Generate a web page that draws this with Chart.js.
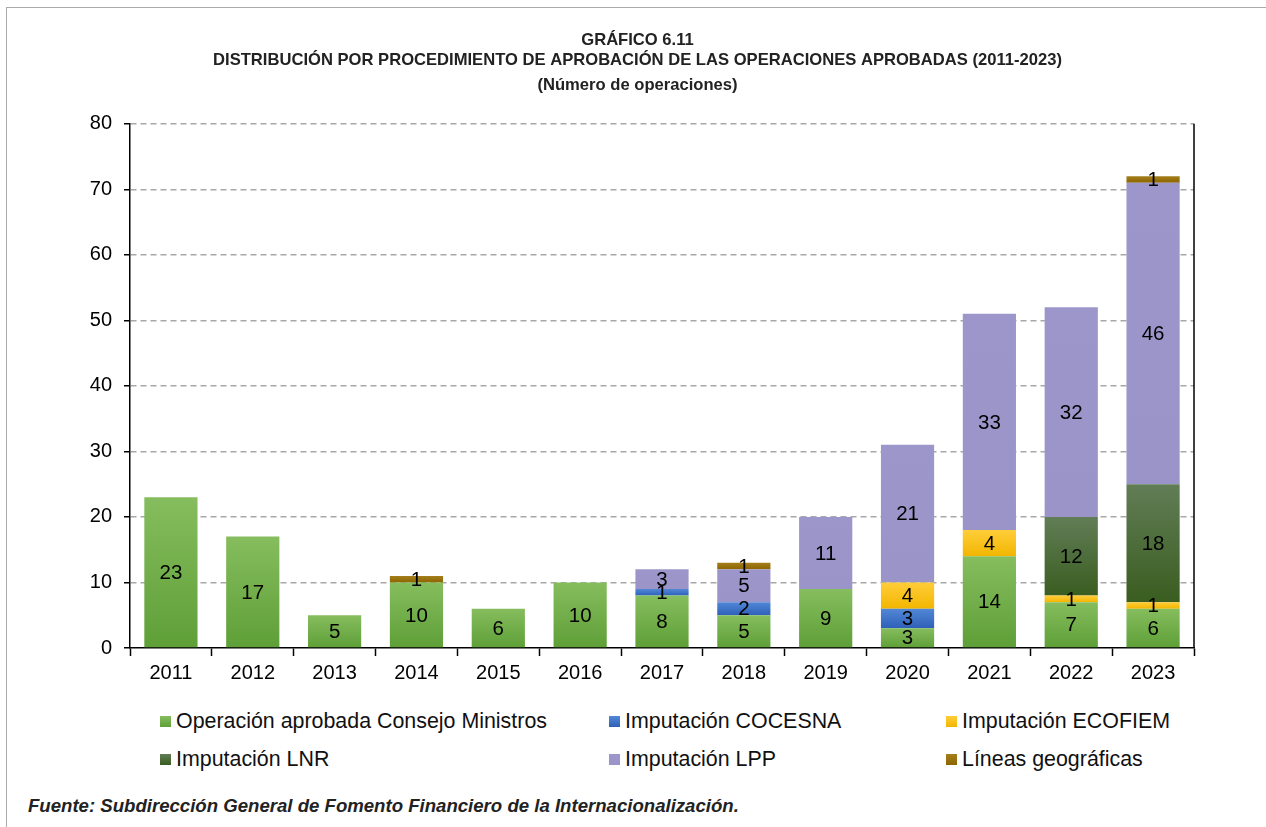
<!DOCTYPE html>
<html>
<head>
<meta charset="utf-8">
<script src="https://cdn.jsdelivr.net/npm/chart.js@4/dist/chart.umd.min.js"></script>
<style>
  body { margin: 0; background: #fff; font-family: "Liberation Sans", Arial, sans-serif; }
  #wrap { position: relative; width: 1266px; height: 827px; overflow: hidden; }
  #frame { position: absolute; left: 6px; top: 7px; width: 1300px; height: 900px; border-left: 1px solid #aaa; border-top: 1px solid #aaa; }
  #box { position: absolute; left: 0; top: 0; width: 1266px; height: 700px; }
  #legend { position: absolute; left: 0; top: 709px; width: 1266px; font-size: 21.4px; line-height: 24px; color: #111; }
  .item { position: absolute; display: flex; align-items: center; white-space: nowrap; }
  .sw { width: 11px; height: 11px; margin-right: 5px; }
  #source { position: absolute; left: 28px; top: 795px; font-size: 18.6px; line-height: 22px; font-weight: bold; font-style: italic; color: #222; }
</style>
</head>
<body>
<div id="wrap">
  <div id="frame"></div>
  <div id="box"><canvas id="chart"></canvas></div>
  <div id="legend"></div>
  <div id="source">Fuente: Subdirección General de Fomento Financiero de la Internacionalización.</div>
</div>
<script>
const years = ['2011', '2012', '2013', '2014', '2015', '2016', '2017', '2018', '2019', '2020', '2021', '2022', '2023'];

const consejoMinistros = [23, 17, 5, 10, 6, 10, 8, 5, 9, 3, 14, 7, 6];
const cocesna          = [0, 0, 0, 0, 0, 0, 1, 2, 0, 3, 0, 0, 0];
const ecofiem          = [0, 0, 0, 0, 0, 0, 0, 0, 0, 4, 4, 1, 1];
const lnr              = [0, 0, 0, 0, 0, 0, 0, 0, 0, 0, 0, 12, 18];
const lpp              = [0, 0, 0, 0, 0, 0, 3, 5, 11, 21, 33, 32, 46];
const lineasGeo        = [0, 0, 0, 1, 0, 0, 0, 1, 0, 0, 0, 0, 1];

const yTicks = [0, 10, 20, 30, 40, 50, 60, 70, 80];

const FONT = '"Liberation Sans", Arial, sans-serif';

// per segment vertical gradient, lighter on top
function grad(top, bottom) {
    return function (ctx) {
        const chart = ctx.chart;
        const y = chart.scales && chart.scales.y;
        if (!chart.chartArea || !y) return bottom;
        let base = 0;
        for (let d = 0; d < ctx.datasetIndex; d++) {
            base += chart.data.datasets[d].data[ctx.dataIndex] || 0;
        }
        const v = ctx.raw || 0;
        const y0 = y.getPixelForValue(base);
        const y1 = y.getPixelForValue(base + v);
        if (!isFinite(y0) || !isFinite(y1) || y0 === y1) return bottom;
        const g = chart.ctx.createLinearGradient(0, y1, 0, y0);
        g.addColorStop(0, top);
        g.addColorStop(1, bottom);
        return g;
    };
}

const series = [
    { label: 'Operación aprobada Consejo Ministros', data: consejoMinistros, top: '#86bd5e', bottom: '#5e9f37' },
    { label: 'Imputación COCESNA', data: cocesna, top: '#5288d6', bottom: '#2e60b8' },
    { label: 'Imputación ECOFIEM', data: ecofiem, top: '#ffcd3a', bottom: '#f2b600' },
    { label: 'Imputación LNR', data: lnr, top: '#617d56', bottom: '#3a5d20' },
    { label: 'Imputación LPP', data: lpp, top: '#9c96ca', bottom: '#9a94c8' },
    { label: 'Líneas geográficas', data: lineasGeo, top: '#a47f1c', bottom: '#8c6500' }
];

const valueLabels = {
    id: 'valueLabels',
    afterDatasetsDraw(chart) {
        const ctx = chart.ctx;
        ctx.save();
        ctx.font = '20.5px ' + FONT;
        ctx.fillStyle = '#000';
        ctx.textAlign = 'center';
        ctx.textBaseline = 'middle';
        chart.data.datasets.forEach((ds, i) => {
            const meta = chart.getDatasetMeta(i);
            meta.data.forEach((bar, j) => {
                const v = ds.data[j];
                if (!v) return;
                ctx.fillText(String(v), bar.x, (bar.y + bar.base) / 2 + 1);
            });
        });
        ctx.restore();
    }
};

const rightBorder = {
    id: 'rightBorder',
    afterDraw(chart) {
        const a = chart.chartArea;
        const ctx = chart.ctx;
        ctx.save();
        ctx.strokeStyle = '#000';
        ctx.lineWidth = 1.5;
        ctx.beginPath();
        ctx.moveTo(a.right, a.top);
        ctx.lineTo(a.right, a.bottom);
        ctx.stroke();
        ctx.restore();
    }
};

new Chart(document.getElementById('chart'), {
    type: 'bar',
    data: {
        labels: years,
        datasets: series.map(s => ({
            label: s.label,
            data: s.data,
            backgroundColor: grad(s.top, s.bottom),
            borderWidth: 0,
            categoryPercentage: 1,
            barPercentage: 0.65
        }))
    },
    options: {
        responsive: true,
        maintainAspectRatio: false,
        animation: false,
        layout: { padding: { left: 9, right: 0, top: 0, bottom: 0 } },
        plugins: {
            legend: { display: false },
            tooltip: { enabled: false },
            title: {
                display: true,
                text: ['GRÁFICO 6.11', 'DISTRIBUCIÓN POR PROCEDIMIENTO DE APROBACIÓN DE LAS OPERACIONES APROBADAS (2011-2023)'],
                color: '#222',
                font: { family: FONT, size: 16.6, weight: 'bold', lineHeight: 1.22 },
                padding: { top: 30, bottom: 0 }
            },
            subtitle: {
                display: true,
                text: '(Número de operaciones)',
                color: '#222',
                font: { family: FONT, size: 16.6, weight: 'bold', lineHeight: 1.22 },
                padding: { top: 5, bottom: 28 }
            }
        },
        scales: {
            x: {
                stacked: true,
                grid: { display: true, drawOnChartArea: false, offset: true, tickLength: 8, tickColor: '#000', tickWidth: 1.5 },
                border: { color: '#000', width: 1.5 },
                ticks: { color: '#000', font: { family: FONT, size: 20 }, padding: 5 },
                afterFit(s) { s.height = 52; }
            },
            y: {
                stacked: true,
                min: 0,
                max: 80,
                afterBuildTicks(s) { s.ticks = yTicks.map(v => ({ value: v })); },
                grid: {
                    color: ctx => ctx.tick && ctx.tick.value === 0 ? 'rgba(0,0,0,0)' : '#a8a8a8',
                    lineWidth: 1.5,
                    tickLength: 6,
                    tickColor: '#000',
                    tickWidth: 1.5,
                    tickBorderDash: []
                },
                border: { color: '#000', width: 1.5, dash: [6, 4] },
                ticks: { color: '#000', font: { family: FONT, size: 20 }, padding: 12 },
                afterFit(s) { s.width = 121; }
            },
            // empty right axis, only reserves the margin right of the plot
            yRight: {
                position: 'right',
                min: 0,
                max: 80,
                ticks: { display: false },
                grid: { display: false },
                border: { display: false },
                afterFit(s) { s.width = 72; }
            }
        }
    },
    plugins: [valueLabels, rightBorder]
});

// legend in three columns
const legendPos = [[160, 0], [609, 0], [946, 0], [160, 38], [609, 38], [946, 38]];
const legend = document.getElementById('legend');
series.forEach((s, i) => {
    const el = document.createElement('div');
    el.className = 'item';
    el.style.left = legendPos[i][0] + 'px';
    el.style.top = legendPos[i][1] + 'px';
    el.innerHTML = '<span class="sw" style="background:linear-gradient(' + s.top + ',' + s.bottom + ')"></span>' + s.label;
    legend.appendChild(el);
});
</script>
</body>
</html>
